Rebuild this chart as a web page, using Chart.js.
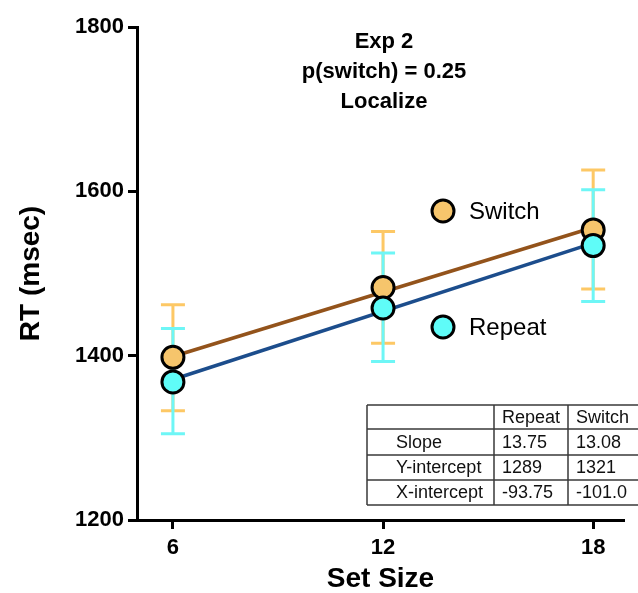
<!DOCTYPE html>
<html lang="en">
<head>
    <meta charset="UTF-8">
    <title>Exp 2 - Localize</title>
    <script src="https://cdn.jsdelivr.net/npm/chart.js@4.4.0/dist/chart.umd.min.js"></script>
    <style>
        body { margin: 0; background: #fff; }
        .wrap { width: 638px; height: 593px; }
    </style>
</head>
<body>
    <div class="wrap"><canvas id="rtChart" width="638" height="593"></canvas></div>
    <script>
        // data
        const setSizes = [6, 12, 18];
        const switchMeans = [1398, 1483, 1553];
        const switchUpper = [1462, 1551, 1626];
        const switchLower = [1333, 1415, 1481];
        const repeatMeans = [1368, 1458, 1534];
        const repeatUpper = [1433, 1525, 1602];
        const repeatLower = [1305, 1393, 1466];
        // fitted lines, endpoints at set size 6 and 18
        const switchFit = [1399, 1556];
        const repeatFit = [1371, 1537];
        const titleLines = ['Exp 2', 'p(switch) = 0.25', 'Localize'];
        const xTicks = [6, 12, 18];
        const tableHeader = ['', 'Repeat', 'Switch'];
        const tableRows = [
            ['Slope', '13.75', '13.08'],
            ['Y-intercept', '1289', '1321'],
            ['X-intercept', '-93.75', '-101.0']
        ];

        const SWITCH_FILL = '#f6c56c';
        const SWITCH_LINE = '#93531b';
        const SWITCH_BAR = '#fdc865';
        const REPEAT_FILL = '#5ffcf8';
        const REPEAT_LINE = '#1c4d8c';
        const REPEAT_BAR = '#6ef6f6';
        const FONT = 'Arial, "Liberation Sans", sans-serif';

        const pts = (ys) => setSizes.map((x, i) => ({ x: x, y: ys[i] }));
        const fitPts = (ys) => [{ x: setSizes[0], y: ys[0] }, { x: setSizes[setSizes.length - 1], y: ys[1] }];

        const errorBars = {
            id: 'errorBars',
            beforeDatasetsDraw(chart) {
                const { ctx, scales: { x, y } } = chart;
                const draw = (hi, lo, color) => {
                    ctx.save();
                    ctx.strokeStyle = color;
                    ctx.lineWidth = 3;
                    setSizes.forEach((s, i) => {
                        const px = x.getPixelForValue(s);
                        const top = y.getPixelForValue(hi[i]);
                        const bot = y.getPixelForValue(lo[i]);
                        ctx.beginPath();
                        ctx.moveTo(px, top); ctx.lineTo(px, bot);
                        ctx.moveTo(px - 12, top); ctx.lineTo(px + 12, top);
                        ctx.moveTo(px - 12, bot); ctx.lineTo(px + 12, bot);
                        ctx.stroke();
                    });
                    ctx.restore();
                };
                draw(switchUpper, switchLower, SWITCH_BAR);
                draw(repeatUpper, repeatLower, REPEAT_BAR);
            }
        };

        const annotations = {
            id: 'annotations',
            afterDraw(chart) {
                const { ctx } = chart;
                ctx.save();

                // title
                ctx.fillStyle = '#000';
                ctx.font = 'bold 22px ' + FONT;
                ctx.textAlign = 'center';
                ctx.textBaseline = 'middle';
                titleLines.forEach((t, i) => ctx.fillText(t, 384, 42 + i * 30));

                // legend
                const legendItem = (cy, fill, label) => {
                    ctx.beginPath();
                    ctx.arc(443, cy, 11, 0, Math.PI * 2);
                    ctx.fillStyle = fill;
                    ctx.fill();
                    ctx.lineWidth = 3;
                    ctx.strokeStyle = '#000';
                    ctx.stroke();
                    ctx.fillStyle = '#000';
                    ctx.font = '24px ' + FONT;
                    ctx.textAlign = 'left';
                    ctx.fillText(label, 469, cy + 1);
                };
                legendItem(211, SWITCH_FILL, 'Switch');
                legendItem(327, REPEAT_FILL, 'Repeat');

                // table
                const colX = [367, 494, 568, 640];
                const rowY = [405, 429, 455, 480, 505];
                ctx.fillStyle = '#fff';
                ctx.fillRect(colX[0], rowY[0], colX[3] - colX[0], rowY[4] - rowY[0]);
                ctx.strokeStyle = '#3a3a3a';
                ctx.lineWidth = 1.5;
                ctx.beginPath();
                rowY.forEach(ry => { ctx.moveTo(colX[0], ry); ctx.lineTo(colX[3], ry); });
                colX.forEach(cx => { ctx.moveTo(cx, rowY[0]); ctx.lineTo(cx, rowY[4]); });
                ctx.stroke();
                ctx.fillStyle = '#111';
                ctx.font = '18px ' + FONT;
                ctx.textAlign = 'left';
                ctx.textBaseline = 'middle';
                const rows = [tableHeader].concat(tableRows);
                rows.forEach((row, r) => {
                    const cy = (rowY[r] + rowY[r + 1]) / 2 + 1;
                    ctx.fillText(row[0], 396, cy);
                    ctx.fillText(row[1], colX[1] + 8, cy);
                    ctx.fillText(row[2], colX[2] + 8, cy);
                });
                ctx.restore();
            }
        };

        new Chart(document.getElementById('rtChart'), {
            type: 'scatter',
            data: {
                datasets: [
                    {
                        label: 'Repeat',
                        data: pts(repeatMeans),
                        backgroundColor: REPEAT_FILL,
                        borderColor: '#000',
                        borderWidth: 3,
                        pointRadius: 11,
                        order: 0
                    },
                    {
                        label: 'Switch',
                        data: pts(switchMeans),
                        backgroundColor: SWITCH_FILL,
                        borderColor: '#000',
                        borderWidth: 3,
                        pointRadius: 11,
                        order: 1
                    },
                    {
                        label: 'Repeat fit',
                        data: fitPts(repeatFit),
                        showLine: true,
                        borderColor: REPEAT_LINE,
                        borderWidth: 3.5,
                        pointRadius: 0,
                        order: 2
                    },
                    {
                        label: 'Switch fit',
                        data: fitPts(switchFit),
                        showLine: true,
                        borderColor: SWITCH_LINE,
                        borderWidth: 3.5,
                        pointRadius: 0,
                        order: 2
                    }
                ]
            },
            options: {
                responsive: false,
                animation: false,
                layout: { padding: { top: 27, right: 0, left: 14, bottom: 0 } },
                plugins: {
                    legend: { display: false },
                    tooltip: { enabled: false },
                    title: { display: false }
                },
                scales: {
                    x: {
                        type: 'linear',
                        min: 4.974,
                        max: 18.88,
                        afterBuildTicks: scale => { scale.ticks = xTicks.map(v => ({ value: v })); },
                        afterFit: scale => { scale.height = 73; },
                        border: { display: true, width: 3, color: '#000' },
                        grid: { drawOnChartArea: false, tickLength: 9, tickWidth: 3, tickColor: '#000' },
                        ticks: {
                            color: '#000',
                            font: { family: FONT, size: 22, weight: 'bold' },
                            padding: 6,
                            maxRotation: 0
                        },
                        title: {
                            display: true,
                            text: 'Set Size',
                            color: '#000',
                            font: { family: FONT, size: 28, weight: 'bold' },
                            padding: { top: 0, bottom: -3 }
                        }
                    },
                    y: {
                        min: 1200,
                        max: 1800,
                        afterFit: scale => { scale.width = 123; },
                        border: { display: true, width: 3, color: '#000' },
                        grid: { drawOnChartArea: false, tickLength: 9, tickWidth: 3, tickColor: '#000' },
                        ticks: {
                            stepSize: 200,
                            color: '#000',
                            font: { family: FONT, size: 22, weight: 'bold' },
                            padding: 4,
                            callback: value => String(value)
                        },
                        title: {
                            display: true,
                            text: 'RT (msec)',
                            color: '#000',
                            font: { family: FONT, size: 28, weight: 'bold' },
                            padding: { top: 0, bottom: 0 }
                        }
                    }
                }
            },
            plugins: [errorBars, annotations]
        });
    </script>
</body>
</html>
